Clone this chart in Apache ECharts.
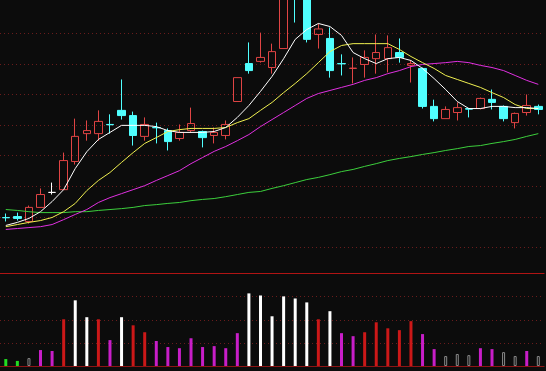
<!DOCTYPE html>
<html>
<head>
<meta charset="utf-8">
<style>
  html, body { margin: 0; padding: 0; background: #0c0c0c; }
  #chart { width: 546px; height: 371px; }
</style>
<script src="https://cdn.jsdelivr.net/npm/echarts@6/dist/echarts.min.js"></script>
</head>
<body>
<div id="chart"></div>
<script>
// ---------- data ----------
const categories = Array.from({length: 47}, (_, i) => 'D' + (i + 1));

// [open, close, low, high]
const candles = [
  [8.98, 8.97, 8.85, 9.11],
  [9.01, 8.95, 8.88, 9.14],
  [8.85, 9.31, 8.78, 9.37],
  [9.31, 9.73, 9.30, 9.93],
  [9.80, 9.80, 9.73, 10.12],
  [9.89, 10.84, 9.89, 11.10],
  [10.81, 11.63, 10.71, 12.21],
  [11.72, 11.82, 11.49, 12.15],
  [11.72, 12.12, 11.49, 12.48],
  [12.02, 12.01, 11.72, 12.35],
  [12.48, 12.31, 12.18, 13.49],
  [12.31, 11.66, 11.33, 12.44],
  [11.63, 12.02, 11.49, 12.25],
  [11.92, 11.91, 11.40, 12.08],
  [11.82, 11.46, 11.17, 11.89],
  [11.56, 11.76, 11.49, 12.02],
  [11.82, 12.05, 11.76, 12.57],
  [11.79, 11.59, 11.27, 11.82],
  [11.66, 11.76, 11.40, 11.92],
  [11.66, 12.02, 11.53, 12.15],
  [12.77, 13.55, 12.77, 13.55],
  [14.01, 13.78, 13.68, 14.70],
  [14.08, 14.21, 14.04, 15.02],
  [13.88, 14.40, 13.68, 14.66],
  [14.50, 16.56, 14.50, 16.89],
  [17.20, 16.30, 15.35, 17.50],
  [16.40, 14.80, 14.70, 16.60],
  [14.96, 15.14, 14.50, 15.32],
  [14.83, 13.78, 13.55, 15.19],
  [14.01, 14.00, 13.62, 14.31],
  [13.85, 13.86, 13.36, 14.21],
  [13.98, 14.21, 13.55, 14.44],
  [14.17, 14.37, 13.68, 14.96],
  [14.17, 14.53, 13.72, 14.93],
  [14.37, 14.21, 14.04, 14.83],
  [13.95, 14.01, 13.39, 14.11],
  [13.85, 12.61, 12.54, 13.88],
  [12.61, 12.21, 12.12, 12.83],
  [12.21, 12.51, 12.21, 12.61],
  [12.41, 12.57, 12.15, 12.74],
  [12.54, 12.52, 12.25, 12.56],
  [12.54, 12.87, 12.51, 12.90],
  [12.84, 12.74, 12.51, 13.16],
  [12.61, 12.21, 12.12, 12.64],
  [12.08, 12.38, 11.89, 12.41],
  [12.41, 12.64, 12.31, 13.00],
  [12.61, 12.51, 12.35, 12.67]
];

const ma5 = [8.72, 8.82, 8.95, 9.17, 9.50, 9.89, 10.58, 11.13, 11.53, 11.76,
  11.99, 11.99, 11.99, 11.95, 11.82, 11.76, 11.76, 11.76, 11.79, 11.92,
  12.25, 12.64, 13.10, 13.59, 14.17, 14.80, 15.12, 15.32, 15.22, 14.93,
  14.37, 14.17, 14.01, 14.17, 14.21, 14.11, 13.85, 13.52, 13.16, 12.77,
  12.54, 12.54, 12.61, 12.61, 12.57, 12.57, 12.54];

const ma10 = [8.68, 8.75, 8.82, 8.88, 8.98, 9.17, 9.44, 9.86, 10.19, 10.45,
  10.78, 11.10, 11.40, 11.59, 11.79, 11.85, 11.89, 11.89, 11.89, 11.92,
  12.08, 12.21, 12.48, 12.74, 13.06, 13.36, 13.68, 14.04, 14.40, 14.60,
  14.66, 14.66, 14.66, 14.66, 14.47, 14.24, 14.04, 13.85, 13.62, 13.49,
  13.36, 13.23, 13.06, 12.90, 12.67, 12.54, 12.54];

const ma30 = [8.59, 8.62, 8.65, 8.68, 8.75, 8.91, 9.08, 9.24, 9.47, 9.63,
  9.76, 9.89, 10.02, 10.19, 10.35, 10.51, 10.74, 10.94, 11.14, 11.30,
  11.49, 11.69, 11.95, 12.18, 12.41, 12.64, 12.87, 13.03, 13.13, 13.23,
  13.33, 13.46, 13.55, 13.68, 13.78, 13.91, 13.98, 14.01, 14.04, 14.08,
  14.04, 13.95, 13.88, 13.78, 13.62, 13.46, 13.33];

const ma60 = [9.24, 9.21, 9.17, 9.14, 9.14, 9.14, 9.17, 9.17, 9.21, 9.24,
  9.27, 9.31, 9.37, 9.40, 9.44, 9.47, 9.53, 9.57, 9.60, 9.66,
  9.73, 9.80, 9.83, 9.93, 10.02, 10.12, 10.22, 10.29, 10.38, 10.48,
  10.55, 10.65, 10.74, 10.84, 10.91, 10.97, 11.04, 11.10, 11.17, 11.23,
  11.30, 11.33, 11.40, 11.46, 11.53, 11.63, 11.72];

const volume = [0.30, 0.22, 0.34, 0.69, 0.65, 2.02, 2.84, 2.11, 2.02, 1.12,
  2.11, 1.76, 1.46, 1.08, 0.82, 0.77, 1.20, 0.82, 0.86, 0.77,
  1.42, 3.14, 3.05, 2.15, 3.01, 2.92, 2.75, 2.02, 2.37, 1.42,
  1.29, 1.46, 1.89, 1.63, 1.55, 1.94, 1.38, 0.73, 0.43, 0.52,
  0.47, 0.77, 0.73, 0.60, 0.43, 0.65, 0.43];

// volume bar class as shown in the picture
const volumeGroup = ['A','A','E','D','D','B','C','C','B','D',
  'C','B','B','D','D','D','D','D','D','D',
  'D','C','C','C','C','C','C','B','C','D',
  'D','B','B','B','B','B','D','D','E','E',
  'E','D','D','E','E','D','E'];

// dotted reference levels
const priceLevels = [8, 9, 10, 11, 12, 13, 14, 15];
const volumeLevels = [1, 2, 3];
const volumeTop = 4;

// positions (category indices) of the small time ticks on the bottom axis
const timeTickIndex = [4, 11, 17, 23, 28, 36, 41, 45];

// ---------- styling ----------
const BG = '#0c0c0c';
const groupStyle = {
  A: {color: '#22dd22'},
  B: {color: '#cc1818'},
  C: {color: '#ffffff'},
  D: {color: '#c81ec8'},
  E: {color: BG, borderColor: '#8a8a8a', borderWidth: 1}
};
const dotStyle = {color: '#6a1c1c', type: [1, 3], width: 1};
const solidRed = {color: '#b01414', type: 'solid', width: 1};

function levelLines(levels, style) {
  return levels.map(v => ({yAxis: v, lineStyle: style}));
}

const chart = echarts.init(document.getElementById('chart'), null, {renderer: 'canvas'});

const hiddenAxis = {axisLine: {show: false}, axisTick: {show: false}, axisLabel: {show: false}, splitLine: {show: false}};

const option = {
  backgroundColor: BG,
  animation: false,
  grid: [
    {left: -2.5, right: 1.9, top: 0.5, height: 273},
    {left: -2.5, right: 1.9, top: 273.5, height: 92.5}
  ],
  xAxis: [
    Object.assign({type: 'category', gridIndex: 0, data: categories}, hiddenAxis),
    {type: 'category', gridIndex: 1, data: categories, position: 'bottom', offset: 3,
     axisLine: {show: true, lineStyle: {color: '#8c1414', width: 1}},
     axisTick: {show: true, inside: true, length: 3, alignWithLabel: true,
       interval: (i) => timeTickIndex.includes(i), lineStyle: {color: '#b02020'}},
     axisLabel: {show: false}, splitLine: {show: false}},
    {type: 'category', gridIndex: 1, data: categories, position: 'top',
     axisLine: {show: true, onZero: false, lineStyle: {color: '#a01414', width: 1}},
     axisTick: {show: false}, axisLabel: {show: false}, splitLine: {show: false}}
  ],
  yAxis: [
    Object.assign({type: 'value', gridIndex: 0, min: 7.15, max: 16.07}, hiddenAxis),
    Object.assign({type: 'value', gridIndex: 1, min: 0, max: volumeTop}, hiddenAxis)
  ],
  series: [
    {
      type: 'candlestick', xAxisIndex: 0, yAxisIndex: 0,
      data: candles, barWidth: 8, clip: false, z: 3,
      itemStyle: {
        color: 'transparent', borderColor: '#e04444',
        color0: '#50ffff', borderColor0: '#50ffff',
        borderColorDoji: '#ffffff', borderWidth: 1
      },
      markLine: {silent: true, symbol: 'none', z: 1, label: {show: false},
        emphasis: {disabled: true}, animation: false,
        data: levelLines(priceLevels, dotStyle)}
    },
    {type: 'line', name: 'MA60', xAxisIndex: 0, yAxisIndex: 0, data: ma60, showSymbol: false, z: 4,
     lineStyle: {color: '#3ccf3c', width: 1}, itemStyle: {color: '#3ccf3c'}},
    {type: 'line', name: 'MA30', xAxisIndex: 0, yAxisIndex: 0, data: ma30, showSymbol: false, z: 4,
     lineStyle: {color: '#e030e0', width: 1}, itemStyle: {color: '#e030e0'}},
    {type: 'line', name: 'MA10', xAxisIndex: 0, yAxisIndex: 0, data: ma10, showSymbol: false, z: 4,
     lineStyle: {color: '#f0f050', width: 1}, itemStyle: {color: '#f0f050'}},
    {type: 'line', name: 'MA5', xAxisIndex: 0, yAxisIndex: 0, data: ma5, showSymbol: false, z: 4,
     lineStyle: {color: '#ffffff', width: 1}, itemStyle: {color: '#ffffff'}},
    {
      type: 'bar', xAxisIndex: 1, yAxisIndex: 1, barWidth: 3, z: 3,
      data: volume.map((v, i) => ({value: v, itemStyle: groupStyle[volumeGroup[i]]})),
      markLine: {silent: true, symbol: 'none', z: 1, label: {show: false},
        emphasis: {disabled: true}, animation: false,
        data: levelLines(volumeLevels, dotStyle).concat(levelLines([volumeTop], solidRed))}
    }
  ]
};
chart.setOption(option);
</script>
</body>
</html>
